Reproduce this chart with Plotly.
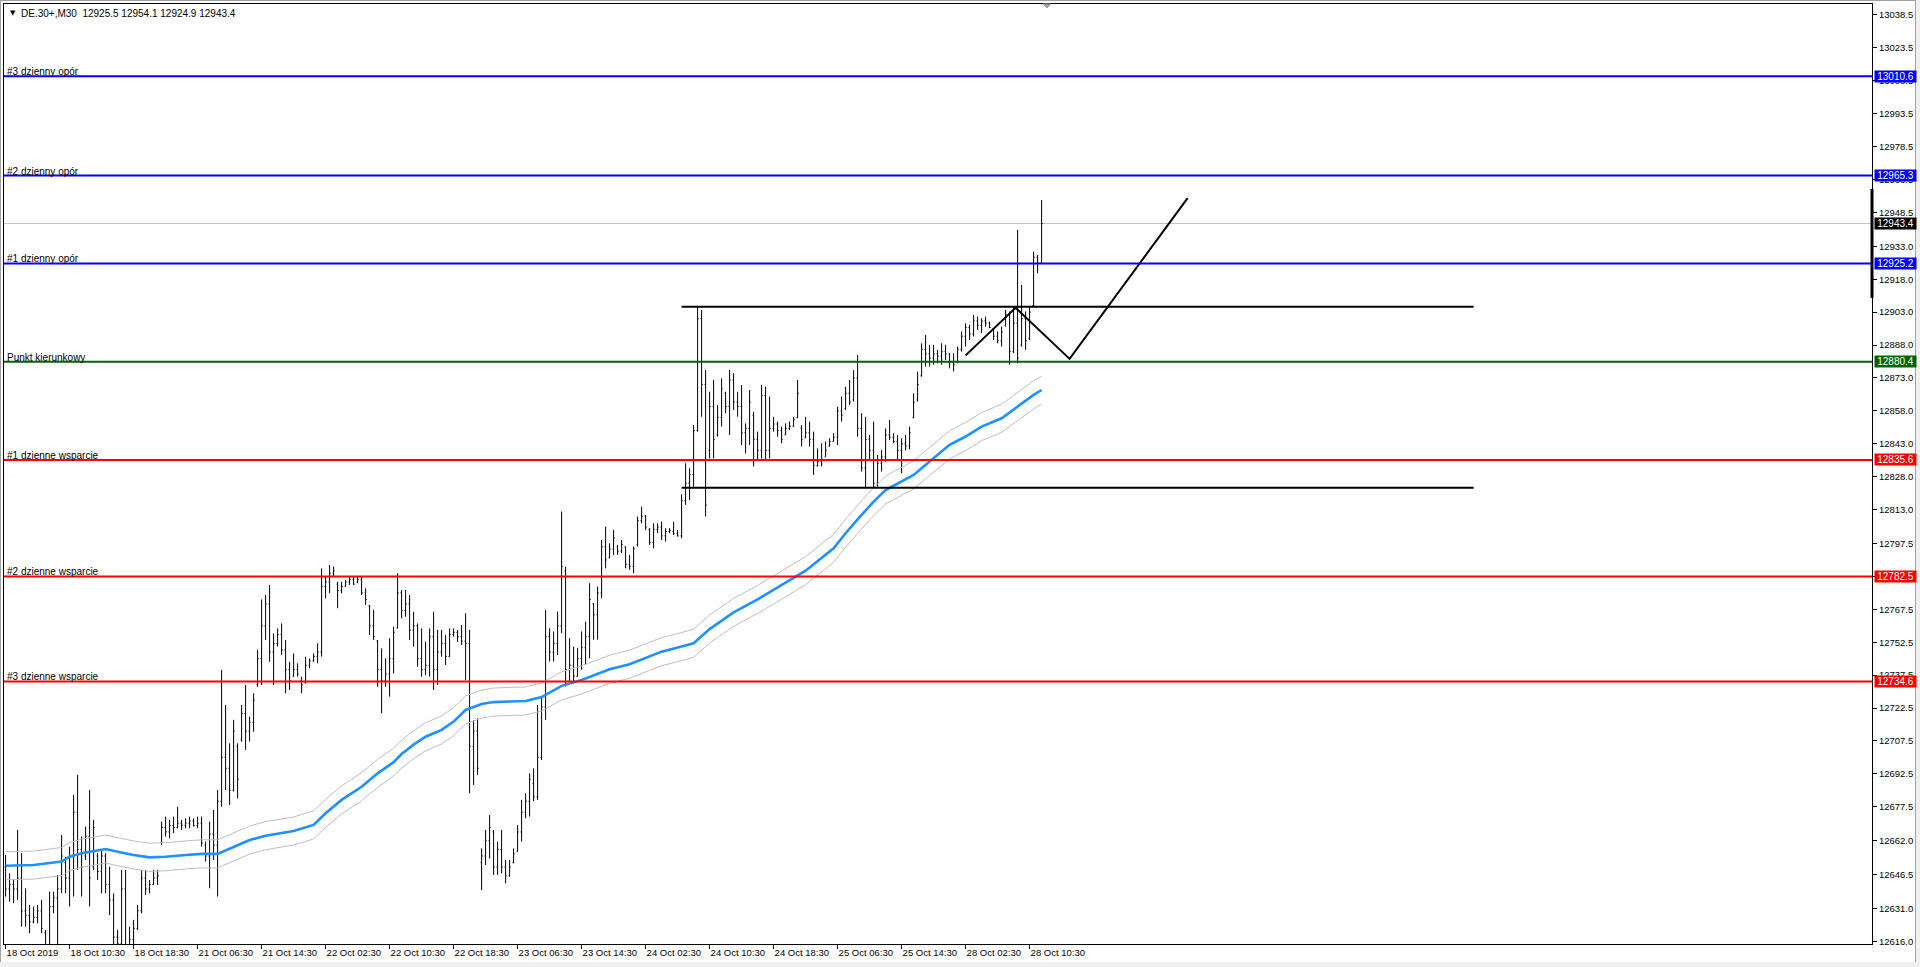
import plotly.graph_objects as go

# ---------------- data ----------------
chart_title = "DE.30+,M30  12925.5 12954.1 12924.9 12943.4"

bar_index = list(range(260))

opens = [
12650,12640,12642,12640,12645,12630,12628,12625,12627,12630,
12620,12614,12632,12636,12640,12652,12645,12655,12675,12658,
12655,12664,12650,12655,12648,12655,12642,12635,12618,12615,
12640,12614,12617,12622,12630,12645,12640,12642,12645,12661,
12668,12666,12669,12668,12670,12669,12670,12671,12669,12670,
12660,12655,12665,12660,12680,12700,12695,12685,12705,12708,
12720,12712,12716,12733,12745,12760,12770,12748,12752,12756,
12749,12740,12737,12740,12735,12734,12742,12744,12746,12748,
12778,12780,12784,12779,12776,12778,12780,12781,12780,12781,
12775,12769,12760,12753,12740,12735,12738,12745,12759,12775,
12767,12770,12758,12760,12745,12740,12742,12755,12740,12748,
12752,12746,12756,12757,12755,12753,12752,12705,12712,12652,
12655,12662,12666,12650,12658,12650,12646,12652,12657,12666,
12675,12680,12688,12682,12700,12723,12755,12748,12752,12760,
12785,12740,12742,12737,12745,12750,12755,12770,12765,12775,
12796,12791,12795,12796,12794,12796,12788,12787,12797,12808,
12810,12804,12798,12804,12805,12801,12803,12803,12802,12801,
12817,12825,12829,12849,12900,12870,12840,12860,12847,12855,
12866,12860,12872,12862,12860,12848,12850,12856,12845,12840,
12865,12840,12850,12852,12849,12847,12850,12851,12855,12850,
12846,12848,12845,12833,12835,12837,12842,12844,12846,12858,
12859,12866,12863,12873,12850,12832,12845,12840,12825,12834,
12837,12847,12846,12844,12840,12843,12842,12855,12863,12874,
12886,12884,12882,12884,12883,12885,12884,12880,12880,12886,
12892,12896,12893,12899,12897,12899,12898,12895.5,12892,12890,
12897,12902,12885,12898,12888,12900,12891,12906,12928,12925.5]

highs = [
12655.5,12647.1,12644.1,12666.9,12656.3,12640.3,12632.7,12632.0,12632.7,12635.0,
12621.3,12638.8,12638.8,12646.4,12664.6,12654.7,12659.3,12682.9,12692.0,12663.9,
12668.4,12685.1,12671.5,12656.3,12657.8,12656.3,12650.2,12638.0,12621.3,12648.7,
12648.7,12622.8,12625.9,12632.7,12648.7,12648.7,12644.1,12648.7,12648.7,12670.7,
12673.0,12671.5,12673.0,12677.5,12671.5,12672.2,12673.0,12672.2,12673.0,12673.0,
12661.6,12670.7,12676.0,12685.1,12739.8,12723.9,12706.4,12717.1,12706.4,12723.9,
12733.0,12718.6,12729.2,12749.0,12772.0,12774.0,12778.6,12756.5,12758.8,12761.1,
12753.5,12743.6,12747.4,12742.9,12736.8,12745.9,12745.1,12747.4,12752.0,12786.2,
12782.4,12787.7,12787.0,12780.1,12780.1,12780.9,12782.4,12782.4,12782.4,12782.4,
12777.1,12769.5,12767.2,12753.5,12749.7,12745.1,12754.3,12759.6,12783.9,12776.3,
12776.3,12774.0,12766.4,12761.1,12758.8,12752.7,12758.8,12766.4,12758.1,12758.1,
12755.8,12758.8,12758.8,12758.1,12760.3,12765.7,12758.1,12717.0,12717.8,12658.5,
12666.9,12673.7,12666.9,12661.6,12666.9,12653.2,12653.2,12658.5,12669.2,12680.6,
12683.6,12692.7,12695.0,12723.9,12727.7,12767.2,12758.9,12757.4,12766.5,12812.1,
12787.0,12754.3,12750.5,12749.8,12757.4,12761.9,12779.4,12770.3,12777.9,12799.1,
12805.2,12797.6,12803.7,12796.9,12799.1,12796.1,12792.3,12796.1,12809.8,12814.3,
12810.5,12804.5,12806.7,12806.7,12807.5,12804.5,12804.5,12807.5,12803.7,12820.0,
12834.1,12831.8,12851.5,12905.5,12904.0,12876.6,12866.7,12872.1,12860.7,12872.8,
12866.7,12876.6,12875.1,12866.7,12869.8,12852.3,12867.5,12857.6,12848.5,12869.8,
12869.0,12864.5,12855.3,12853.1,12850.8,12852.3,12853.1,12855.3,12872.1,12851.5,
12855.3,12853.1,12848.5,12840.9,12843.2,12844.0,12845.5,12847.8,12859.9,12864.5,
12869.0,12872.1,12876.6,12883.5,12856.9,12855.3,12847.0,12853.1,12837.9,12840.1,
12850.0,12853.8,12847.8,12847.0,12845.5,12847.0,12850.8,12866.0,12875.9,12888.8,
12892.6,12888.1,12888.1,12885.8,12888.8,12888.1,12884.3,12884.3,12887.3,12894.2,
12897.9,12897.2,12901.7,12901.0,12900.2,12901.0,12898.7,12895.7,12894.2,12896.4,
12904.0,12903.3,12905.5,12940.5,12915.4,12903.3,12905.5,12930.6,12929.1,12954.1]

lows = [
12636.5,12634.2,12633.5,12635.0,12622.8,12622.8,12619.8,12624.3,12624.3,12619.8,
12610.0,12610.0,12628.9,12608.0,12638.0,12638.0,12632.0,12636.5,12648.7,12636.5,
12653.2,12632.0,12648.7,12644.1,12638.0,12638.0,12628.1,12612.0,12611.0,12609.0,
12611.0,12610.0,12612.0,12621.3,12628.9,12637.3,12638.0,12641.8,12641.8,12660.1,
12663.9,12663.1,12665.4,12667.7,12666.9,12667.7,12667.7,12668.4,12667.7,12659.3,
12652.5,12640.3,12653.2,12636.5,12677.5,12685.1,12678.3,12684.4,12681.3,12707.2,
12703.4,12707.2,12711.7,12732.2,12733.0,12753.5,12743.6,12733.0,12750.5,12746.7,
12729.2,12730.7,12736.8,12736.8,12729.2,12733.7,12740.6,12743.6,12742.9,12745.9,
12772.5,12774.8,12782.4,12768.0,12774.8,12777.8,12778.6,12778.6,12779.4,12774.0,
12769.5,12755.8,12753.5,12732.2,12720.1,12732.2,12727.7,12738.3,12758.8,12763.4,
12764.1,12753.5,12750.5,12741.4,12736.8,12737.5,12736.8,12730.7,12733.0,12745.9,
12742.1,12745.9,12755.0,12752.7,12751.2,12735.3,12683.6,12687.4,12692.0,12639.5,
12650.9,12653.9,12646.4,12646.4,12647.1,12642.6,12645.6,12651.7,12657.0,12661.6,
12672.2,12673.0,12680.0,12680.6,12698.8,12717.1,12743.7,12743.7,12746.7,12756.6,
12732.3,12733.8,12733.8,12736.8,12739.9,12742.2,12745.2,12753.6,12753.6,12772.5,
12786.2,12790.8,12792.3,12792.3,12793.1,12786.2,12785.5,12783.9,12796.1,12806.7,
12803.7,12796.9,12795.3,12802.2,12799.1,12798.4,12802.2,12801.4,12800.7,12799.9,
12815.1,12817.4,12823.4,12848.5,12855.3,12809.8,12836.3,12836.3,12846.2,12850.8,
12856.9,12847.0,12858.4,12855.3,12842.4,12838.6,12842.4,12832.6,12835.6,12836.3,
12835.6,12836.3,12848.5,12846.2,12843.2,12847.0,12849.3,12850.8,12854.6,12841.7,
12845.5,12841.7,12828.8,12832.6,12832.6,12837.1,12841.7,12844.0,12842.4,12853.1,
12858.4,12860.7,12862.2,12846.2,12830.3,12822.7,12835.6,12822.7,12823.4,12830.3,
12834.8,12844.7,12843.2,12835.6,12829.5,12840.0,12840.5,12854.6,12862.2,12873.6,
12878.2,12878.2,12879.0,12879.7,12879.0,12881.2,12877.4,12875.9,12879.7,12885.0,
12887.3,12890.3,12891.9,12894.9,12893.4,12896.4,12895.7,12890.3,12888.8,12887.3,
12896.4,12879.0,12884.3,12879.7,12887.3,12885.8,12890.3,12905.5,12920.7,12924.9]

closes = [
12640,12642,12640,12645,12630,12628,12625,12627,12630,12622,
12614,12632,12636,12640,12655,12645,12655,12675,12658,12650,
12664,12645,12668,12648,12655,12642,12635,12618,12615,12640,
12614,12617,12622,12630,12645,12640,12642,12645,12646,12668,
12666,12669,12668,12670,12669,12670,12671,12669,12670,12661,
12655,12665,12660,12680,12700,12695,12685,12712,12690,12720,
12712,12716,12726,12745,12760,12770,12748,12752,12756,12749,
12740,12735,12740,12738,12733,12742,12744,12746,12748,12778,
12780,12784,12785,12776,12778,12780,12781,12779,12781,12775,
12772,12760,12755,12740,12735,12738,12745,12757,12775,12767,
12770,12758,12760,12745,12740,12742,12755,12740,12748,12752,
12746,12756,12757,12755,12753,12752,12705,12712,12695,12655,
12662,12668,12650,12658,12650,12646,12650,12656,12666,12675,
12680,12690,12682,12700,12723,12755,12748,12752,12760,12787,
12740,12742,12737,12745,12750,12755,12772,12765,12775,12796,
12790,12795,12800,12794,12797,12788,12787,12795,12808,12810,
12805,12798,12804,12805,12801,12803,12803.5,12802,12801,12817,
12825,12829,12849,12900,12870,12815,12860,12845,12855,12868,
12860,12872,12862,12860,12848,12850,12862,12845,12840,12865,
12840,12850,12852,12849,12845,12850,12851,12854,12866,12845,
12848,12845,12833,12835,12836,12840,12844,12846,12858,12856,
12866,12862,12873,12850,12832,12845,12840,12825,12834,12837,
12847,12846,12844,12840,12843,12842,12848,12862,12870,12886,
12884,12882,12884,12883,12885,12884,12880,12879,12886,12892,
12896,12893,12899,12897,12899,12898,12896,12892,12890,12894,
12902,12885,12898,12882,12900,12890,12903,12928,12925.5,12943.4]

# moving average (read at anchor bars) and its envelope
ma_idx = [0,7,14,16,19,23,25,28,32,36,40,45,49,53,57,61,65,68,72,77,80,84,89,93,97,99,
          102,105,109,112,115,119,122,126,130,134,139,144,148,151,156,160,164,169,172,176,
          182,188,194,200,207,210,213,217,220,224,227,231,236,240,244,249,253,257,259]
ma_val = [12650.6,12650.9,12652.5,12654.7,12656.3,12657.8,12658.2,12657.0,12655.5,12654.4,
          12654.7,12655.5,12656.0,12656.0,12659.3,12662.3,12664.3,12665.1,12666.4,12669.2,
          12674.5,12680.6,12686.6,12692.7,12697.8,12701.5,12705.8,12709.4,12712.5,12716.3,
          12721.6,12724.3,12725.2,12725.5,12725.7,12727.5,12732.6,12735.3,12737.9,12740.2,
          12742.5,12745.2,12748.2,12750.5,12752.0,12758.5,12766.1,12772.0,12778.5,12785.1,
          12795.3,12802.2,12808.5,12816.6,12821.9,12825.8,12828.8,12834.9,12842.5,12846.3,
          12850.8,12854.6,12860.0,12865.3,12867.5]
env_upper = [12657.0,12657.3,12658.9,12661.1,12662.7,12664.2,12664.6,12663.4,12661.9,12660.8,
             12661.1,12661.9,12662.4,12662.4,12665.7,12668.7,12670.7,12671.5,12672.8,12675.6,
             12680.9,12687.0,12693.0,12699.1,12704.2,12707.9,12712.2,12715.8,12718.9,12722.7,
             12728.0,12730.7,12731.6,12731.9,12732.1,12733.9,12739.0,12741.7,12744.3,12746.6,
             12748.9,12751.6,12754.6,12756.9,12758.4,12764.9,12772.5,12778.4,12784.9,12791.5,
             12801.7,12808.6,12814.9,12823.0,12828.3,12832.2,12835.2,12841.3,12848.9,12852.7,
             12857.2,12861.0,12866.4,12871.7,12873.9]
env_lower = [12644.2,12644.5,12646.1,12648.3,12649.9,12651.4,12651.8,12650.6,12649.1,12648.0,
             12648.3,12649.1,12649.6,12649.6,12652.9,12655.9,12657.9,12658.7,12660.0,12662.8,
             12668.1,12674.2,12680.2,12686.3,12691.4,12695.1,12699.4,12703.0,12706.1,12709.9,
             12715.2,12717.9,12718.8,12719.1,12719.3,12721.1,12726.2,12728.9,12731.5,12733.8,
             12736.1,12738.8,12741.8,12744.1,12745.6,12752.1,12759.7,12765.6,12772.1,12778.7,
             12788.9,12795.8,12802.1,12810.2,12815.5,12819.4,12822.4,12828.5,12836.1,12839.9,
             12844.4,12848.2,12853.6,12858.9,12861.1]

x_tick_pos = [0,16,32,48,64,80,96,112,128,144,160,176,192,208,224,240,256]
x_tick_text = ["18 Oct 2019","18 Oct 10:30","18 Oct 18:30","21 Oct 06:30","21 Oct 14:30",
               "22 Oct 02:30","22 Oct 10:30","22 Oct 18:30","23 Oct 06:30","23 Oct 14:30",
               "24 Oct 02:30","24 Oct 10:30","24 Oct 18:30","25 Oct 06:30","25 Oct 14:30",
               "28 Oct 02:30","28 Oct 10:30"]

y_tick_vals = [13038.5,13023.5,13008.5,12993.5,12978.5,12963.5,12948.5,12933.0,12918.0,
               12903.0,12888.0,12873.0,12858.0,12843.0,12828.0,12813.0,12797.5,12782.5,
               12767.5,12752.5,12737.5,12722.5,12707.5,12692.5,12677.5,12662.0,12646.5,
               12631.0,12616.0]
y_tick_text = ["%.1f" % v for v in y_tick_vals]

level_prices = [13010.6, 12965.3, 12925.2, 12880.4, 12835.6, 12782.5, 12734.6]
level_names = ["#3 dzienny opór", "#2 dzienny opór", "#1 dzienny opór", "Punkt kierunkowy",
               "#1 dzienne wsparcie", "#2 dzienne wsparcie", "#3 dzienne wsparcie"]
level_colors = ["#0000FF", "#0000FF", "#0000FF", "#006400", "#FF0000", "#FF0000", "#FF0000"]

bid_price = 12943.4
axis_bar_range = [12909.5, 12959.2]

box_x = [169, 367]
box_top = 12905.5
box_bottom = 12822.9

zigzag_x = [240, 252.5, 266, 295.5]
zigzag_y = [12883.3, 12905.0, 12881.7, 12955.0]

# ---------------- figure ----------------
FONT = "Tahoma, 'Liberation Sans', Arial, sans-serif"
W, H = 1920, 967
L, R, T, B = 4, 48, 4, 23
PW, PH = W - L - R, H - T - B

def px_x(p):
    return (p - L) / PW

def px_y(p):
    return (H - B - p) / PH

fig = go.Figure()

fig.add_trace(go.Ohlc(
    x=bar_index, open=opens, high=highs, low=lows, close=closes,
    increasing=dict(line=dict(color="black", width=1)),
    decreasing=dict(line=dict(color="black", width=1)),
    tickwidth=0.26, hoverinfo="skip", showlegend=False))

for env in (env_upper, env_lower):
    fig.add_trace(go.Scatter(x=ma_idx, y=env, mode="lines",
                             line=dict(color="#BEBEBE", width=1),
                             hoverinfo="skip", showlegend=False))
fig.add_trace(go.Scatter(x=ma_idx, y=ma_val, mode="lines",
                         line=dict(color="#1E90FF", width=2.6),
                         hoverinfo="skip", showlegend=False))

# range box lines
for yv in (box_top, box_bottom):
    fig.add_trace(go.Scatter(x=box_x, y=[yv, yv], mode="lines",
                             line=dict(color="black", width=2),
                             hoverinfo="skip", showlegend=False))
fig.add_trace(go.Scatter(x=zigzag_x, y=zigzag_y, mode="lines",
                         line=dict(color="black", width=2),
                         hoverinfo="skip", showlegend=False))

shapes = []
annotations = []

# bid line
shapes.append(dict(type="line", xref="paper", yref="y", x0=0, x1=1, y0=bid_price, y1=bid_price,
                   line=dict(color="#C0C0C0", width=1), layer="below"))

for p, name, col in zip(level_prices, level_names, level_colors):
    shapes.append(dict(type="line", xref="paper", yref="y", x0=0, x1=1, y0=p, y1=p,
                       line=dict(color=col, width=2), layer="above"))
    annotations.append(dict(xref="paper", yref="y", x=0, y=p, xanchor="left", yanchor="bottom",
                            xshift=2, yshift=-2, text=name, showarrow=False, borderpad=0,
                            font=dict(family=FONT, size=10, color="black")))
    annotations.append(dict(xref="paper", yref="y", x=1, y=p, xanchor="left", yanchor="middle",
                            xshift=2, text="%.1f" % p, showarrow=False, bgcolor=col,
                            width=41, height=11, borderpad=0, align="center",
                            font=dict(family=FONT, size=10, color="white")))

annotations.append(dict(xref="paper", yref="y", x=1, y=bid_price, xanchor="left", yanchor="middle",
                        xshift=2, text="%.1f" % bid_price, showarrow=False, bgcolor="black",
                        width=41, height=11, borderpad=0, align="center",
                        font=dict(family=FONT, size=10, color="white")))

# thick mark on the price axis
shapes.append(dict(type="line", xref="paper", yref="y", x0=px_x(1872), x1=px_x(1872),
                   y0=axis_bar_range[0], y1=axis_bar_range[1],
                   line=dict(color="black", width=3), layer="above"))

# chart-shift marker at the top
shapes.append(dict(type="path", xref="paper", yref="paper",
                   path="M %f %f L %f %f L %f %f Z" % (px_x(1043), px_y(4), px_x(1051), px_y(4),
                                                        px_x(1047), px_y(8)),
                   fillcolor="#A0A0A0", line=dict(color="#A0A0A0", width=1), layer="above"))

# window chrome
shapes.append(dict(type="rect", xref="paper", yref="paper", x0=px_x(1916), x1=px_x(1921),
                   y0=px_y(968), y1=px_y(-1), fillcolor="#F0F0F0", line=dict(width=0)))
shapes.append(dict(type="line", xref="paper", yref="paper", x0=px_x(1915.5), x1=px_x(1915.5),
                   y0=px_y(962), y1=px_y(0), line=dict(color="#A0A0A0", width=1)))
shapes.append(dict(type="rect", xref="paper", yref="paper", x0=px_x(-1), x1=px_x(1921),
                   y0=px_y(968), y1=px_y(962), fillcolor="#F0F0F0", line=dict(width=0)))
shapes.append(dict(type="line", xref="paper", yref="paper", x0=px_x(0.5), x1=px_x(0.5),
                   y0=px_y(962), y1=px_y(0), line=dict(color="#A0A0A0", width=1)))
shapes.append(dict(type="line", xref="paper", yref="paper", x0=px_x(0), x1=px_x(1916),
                   y0=px_y(0.5), y1=px_y(0.5), line=dict(color="#A0A0A0", width=1)))

# title
annotations.append(dict(xref="paper", yref="paper", x=px_x(9), y=px_y(13), xanchor="left",
                        yanchor="middle", text="▼", showarrow=False, borderpad=0,
                        font=dict(family="DejaVu Sans", size=7, color="black")))
annotations.append(dict(xref="paper", yref="paper", x=px_x(20), y=px_y(13), xanchor="left",
                        yanchor="middle", text=chart_title.replace("  ", "&nbsp;&nbsp;"),
                        showarrow=False, borderpad=0,
                        font=dict(family=FONT, size=10, color="black")))

fig.update_layout(
    template="none",
    width=W, height=H,
    margin=dict(l=L, r=R, t=T, b=B, pad=0),
    paper_bgcolor="white", plot_bgcolor="white",
    showlegend=False,
    shapes=shapes, annotations=annotations,
    xaxis=dict(range=[-0.4, 466.6], tickmode="array", tickvals=x_tick_pos, ticktext=x_tick_text,
               ticks="outside", ticklen=4, tickcolor="black", tickwidth=1,
               ticklabelposition="outside right",
               showline=True, linecolor="black", linewidth=1, mirror=True,
               showgrid=False, zeroline=False, automargin=False,
               rangeslider=dict(visible=False), fixedrange=True,
               tickfont=dict(family=FONT, size=9.5, color="black")),
    yaxis=dict(range=[12614.9, 13043.5], side="right", tickmode="array",
               tickvals=y_tick_vals, ticktext=y_tick_text,
               ticks="outside", ticklen=4, tickcolor="black", tickwidth=1,
               showline=True, linecolor="black", linewidth=1, mirror=True,
               showgrid=False, zeroline=False, automargin=False, fixedrange=True,
               tickfont=dict(family=FONT, size=9.5, color="black")),
)

fig.write_html("out.html", config={"displayModeBar": False},
               post_script="document.body.style.margin='0';document.body.style.overflow='hidden';")
